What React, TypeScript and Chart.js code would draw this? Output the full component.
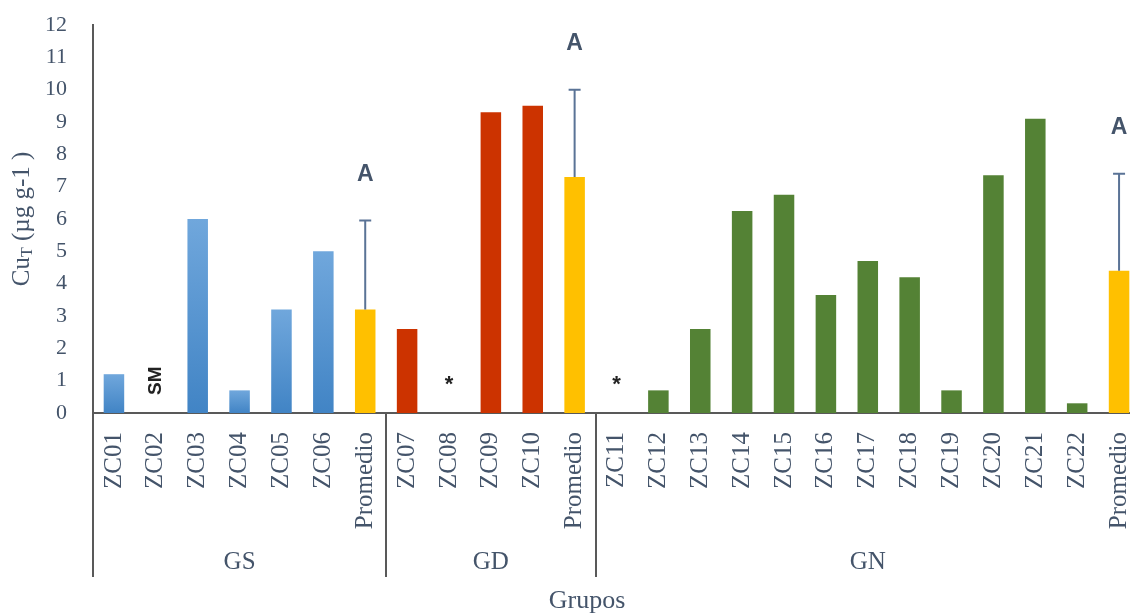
import React, { useEffect, useRef } from "react";
import { Chart, registerables } from "chart.js";

Chart.register(...registerables);

const categories = [
  "ZC01", "ZC02", "ZC03", "ZC04", "ZC05", "ZC06", "Promedio",
  "ZC07", "ZC08", "ZC09", "ZC10", "Promedio",
  "ZC11", "ZC12", "ZC13", "ZC14", "ZC15", "ZC16", "ZC17", "ZC18", "ZC19", "ZC20", "ZC21", "ZC22", "Promedio",
];
const values = [
  1.2, 0, 6.0, 0.7, 3.2, 5.0, 3.2,
  2.6, 0, 9.3, 9.5, 7.3,
  0, 0.7, 2.6, 6.25, 6.75, 3.65, 4.7, 4.2, 0.7, 7.35, 9.1, 0.3, 4.4,
];
const barGroup = [
  "GS", "GS", "GS", "GS", "GS", "GS", "AVG",
  "GD", "GD", "GD", "GD", "AVG",
  "GN", "GN", "GN", "GN", "GN", "GN", "GN", "GN", "GN", "GN", "GN", "GN", "AVG",
];
const errorTops: (number | null)[] = [
  null, null, null, null, null, null, 5.95,
  null, null, null, null, 10.0,
  null, null, null, null, null, null, null, null, null, null, null, null, 7.4,
];
const markers = [
  "", "SM", "", "", "", "", "",
  "", "*", "", "", "",
  "*", "", "", "", "", "", "", "", "", "", "", "", "",
];
const letters = [
  "", "", "", "", "", "", "A",
  "", "", "", "", "A",
  "", "", "", "", "", "", "", "", "", "", "", "", "A",
];
const groups = ["GS", "GD", "GN"];
const groupSizes = [7, 5, 13];

const TEXT = "#44546A";
const AXIS = "#595959";
const SERIF = "'Liberation Serif', 'Times New Roman', serif";
const SANS = "'Liberation Sans', Arial, sans-serif";

const overlay = {
  id: "overlay",
  afterDatasetsDraw(chart: any) {
    const { ctx, scales } = chart;
    const x = scales.x;
    const y = scales.y;
    ctx.save();
    // error bars
    ctx.strokeStyle = "#5A7396";
    ctx.lineWidth = 2;
    errorTops.forEach((e, i) => {
      if (e == null) return;
      const cx = x.getPixelForValue(i);
      const yb = y.getPixelForValue(values[i]);
      const yt = y.getPixelForValue(e);
      ctx.beginPath();
      ctx.moveTo(cx, yb);
      ctx.lineTo(cx, yt);
      ctx.moveTo(cx - 6, yt);
      ctx.lineTo(cx + 6, yt);
      ctx.stroke();
      if (letters[i]) {
        ctx.fillStyle = TEXT;
        ctx.font = "bold 23px " + SANS;
        ctx.textAlign = "center";
        ctx.textBaseline = "middle";
        ctx.fillText(letters[i], cx, yt - 46);
      }
    });
    // markers
    markers.forEach((m, i) => {
      if (!m) return;
      const cx = x.getPixelForValue(i);
      const cy = y.getPixelForValue(1);
      ctx.fillStyle = "#222";
      ctx.textAlign = "center";
      ctx.textBaseline = "middle";
      if (m === "SM") {
        ctx.save();
        ctx.translate(cx, cy);
        ctx.rotate(-Math.PI / 2);
        ctx.font = "bold 19px " + SANS;
        ctx.fillText(m, 0, 0);
        ctx.restore();
      } else {
        ctx.font = "bold 22px " + SANS;
        ctx.fillText(m, cx, cy + 4);
      }
    });
    // group separators and labels
    const cw = (x.right - x.left) / categories.length;
    const top = chart.chartArea.bottom;
    ctx.strokeStyle = AXIS;
    ctx.lineWidth = 2;
    let acc = 0;
    const bounds = [0];
    groupSizes.forEach((s) => {
      acc += s;
      bounds.push(acc);
    });
    bounds.forEach((b) => {
      const px = Math.round(x.left + b * cw);
      ctx.beginPath();
      ctx.moveTo(px, top);
      ctx.lineTo(px, 577);
      ctx.stroke();
    });
    ctx.fillStyle = TEXT;
    ctx.font = "25px " + SERIF;
    ctx.textAlign = "center";
    ctx.textBaseline = "middle";
    groups.forEach((g, gi) => {
      const mid = (bounds[gi] + bounds[gi + 1]) / 2;
      ctx.fillText(g, x.left + mid * cw, 562);
    });
    ctx.font = "26px " + SERIF;
    ctx.fillText("Grupos", 587, 601);
    // y title with subscript
    ctx.save();
    ctx.translate(22, 219);
    ctx.rotate(-Math.PI / 2);
    ctx.textAlign = "left";
    ctx.textBaseline = "middle";
    const f1 = "25px " + SERIF;
    const f2 = "16px " + SERIF;
    ctx.font = f1;
    const a = "Cu";
    const c = " (µg g-1 )";
    const wa = ctx.measureText(a).width;
    const wc = ctx.measureText(c).width;
    ctx.font = f2;
    const wb = ctx.measureText("T").width;
    const total = wa + wb + wc;
    let sx = -total / 2;
    ctx.font = f1;
    ctx.fillText(a, sx, 0);
    sx += wa;
    ctx.font = f2;
    ctx.fillText("T", sx, 6);
    sx += wb;
    ctx.font = f1;
    ctx.fillText(c, sx, 0);
    ctx.restore();
    ctx.restore();
  },
};

function barColor(c: any) {
  const i = c.dataIndex;
  const g = barGroup[i];
  if (g === "AVG") return "#FFC000";
  if (g === "GD") return "#CC3300";
  if (g === "GN") return "#548235";
  const chart = c.chart;
  const y = chart.scales && chart.scales.y;
  if (!chart.chartArea || !y) return "#5B9BD5";
  const top = y.getPixelForValue(values[i]);
  const bottom = y.getPixelForValue(0);
  if (!isFinite(top) || bottom - top < 1) return "#5B9BD5";
  const grad = chart.ctx.createLinearGradient(0, top, 0, bottom);
  grad.addColorStop(0, "#70A7DC");
  grad.addColorStop(1, "#4184C5");
  return grad;
}

export default function App() {
  const ref = useRef<HTMLCanvasElement>(null);
  useEffect(() => {
    if (!ref.current) return;
    const chart = new Chart(ref.current, {
      type: "bar",
      data: {
        labels: categories,
        datasets: [
          {
            data: values,
            backgroundColor: barColor as any,
            barPercentage: 0.49,
            categoryPercentage: 1,
          },
        ],
      },
      plugins: [overlay],
      options: {
        responsive: false,
        animation: false,
        layout: { padding: { top: 25, right: 0, left: 0, bottom: 0 } },
        plugins: { legend: { display: false }, tooltip: { enabled: false } },
        scales: {
          x: {
            grid: { display: false, drawTicks: false },
            border: { display: true, color: AXIS, width: 2 },
            ticks: {
              autoSkip: false,
              minRotation: 90,
              maxRotation: 90,
              padding: 19,
              color: TEXT,
              font: { family: SERIF, size: 25 },
            },
            afterFit: (s: any) => {
              s.height = 202;
              s.paddingLeft = 0;
              s.paddingRight = 0;
              s.paddingTop = 0;
              s.paddingBottom = 0;
            },
          },
          y: {
            min: 0,
            max: 12,
            grid: { display: false, drawTicks: false },
            border: { display: true, color: AXIS, width: 2 },
            ticks: {
              stepSize: 1,
              padding: 26,
              color: TEXT,
              font: { family: SERIF, size: 22 },
            },
            afterFit: (s: any) => {
              s.width = 93;
              s.paddingLeft = 0;
              s.paddingRight = 0;
              s.paddingTop = 0;
              s.paddingBottom = 0;
            },
          },
        },
      },
    });
    return () => chart.destroy();
  }, []);
  return (
    <div style={{ position: "fixed", left: 0, top: 0, width: 1130, height: 615, overflow: "hidden", background: "#fff" }}>
      <canvas ref={ref} width={1140} height={615} style={{ display: "block" }} />
    </div>
  );
}
